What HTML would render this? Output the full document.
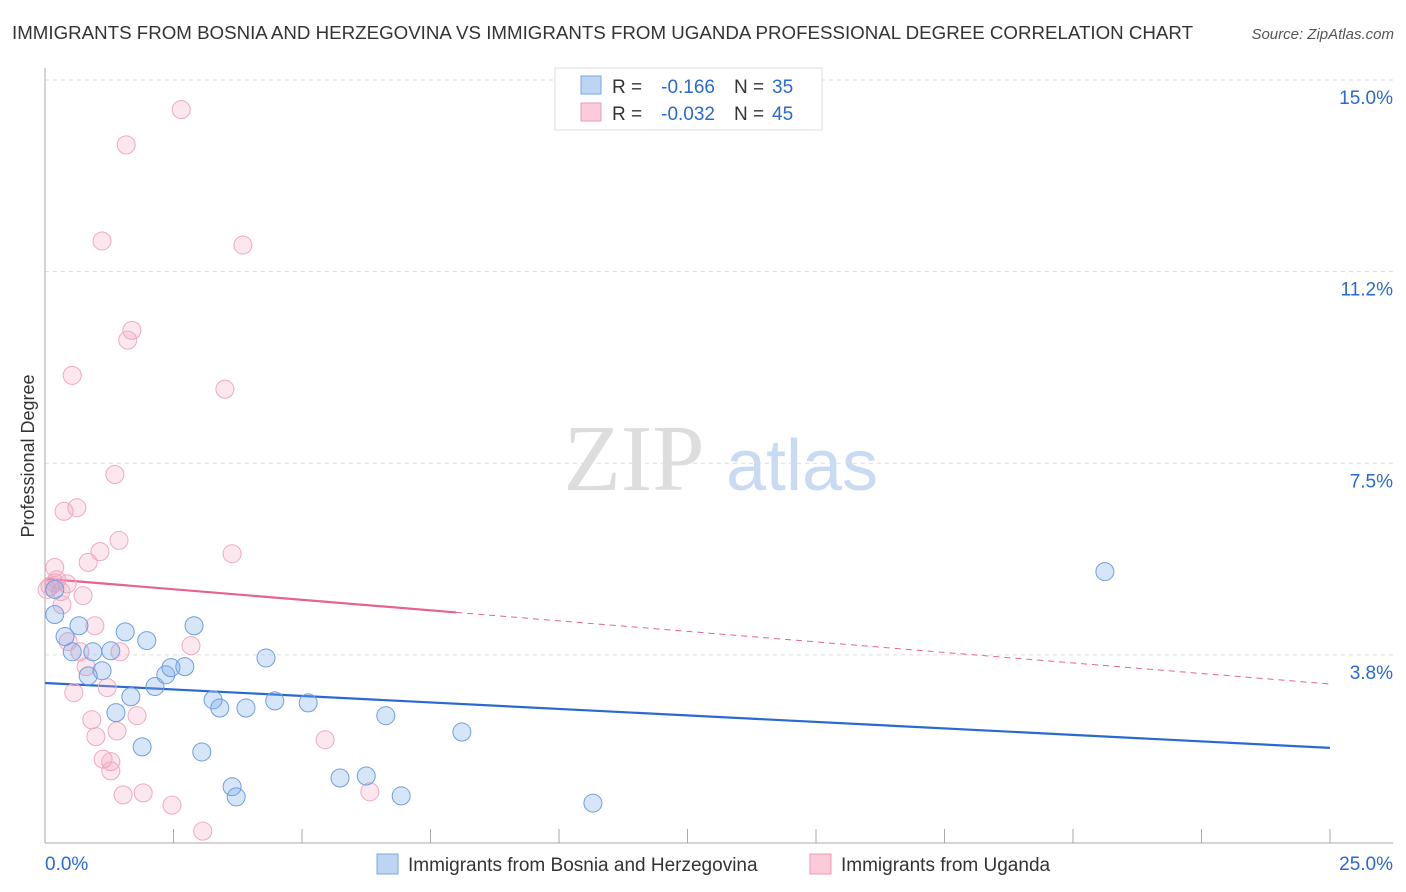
<!DOCTYPE html>
<html><head><meta charset="utf-8"><style>
body{margin:0;background:#fff;font-family:"Liberation Sans",sans-serif;}
#wrap{position:relative;width:1406px;height:892px;overflow:hidden;}
</style></head><body>
<div id="wrap">
<svg id="svg" width="1406" height="892" xmlns="http://www.w3.org/2000/svg">
<text x="12" y="39" font-size="18" fill="#333" textLength="1181" lengthAdjust="spacingAndGlyphs">IMMIGRANTS FROM BOSNIA AND HERZEGOVINA VS IMMIGRANTS FROM UGANDA PROFESSIONAL DEGREE CORRELATION CHART</text>
<text x="1394" y="39" font-size="15" fill="#555" font-style="italic" text-anchor="end">Source: ZipAtlas.com</text>
<text x="34" y="456" font-size="18" fill="#333" text-anchor="middle" transform="rotate(-90 34 456)">Professional Degree</text>
<g>
<text x="634" y="490" font-size="94" fill="#ddd" font-family="Liberation Serif,serif" text-anchor="middle">ZIP</text>
<text x="802" y="490" font-size="72" fill="#c9dbf2" text-anchor="middle">atlas</text>
</g>
<g id="grid"></g><g id="axes"></g><g id="trend"></g><g id="pts"></g>
<g>
<rect x="555" y="68" width="267" height="62" fill="#fff" stroke="#ddd"/>
<rect x="581" y="76" width="20" height="18" fill="#bcd5f5" stroke="#7aa7e0"/>
<rect x="581" y="103" width="20" height="18" fill="#fbcbd9" stroke="#ee9ab4"/>
<text x="612" y="93" font-size="19" fill="#333">R =</text>
<text x="715" y="93" font-size="19" fill="#2a6ad0" text-anchor="end">-0.166</text>
<text x="734" y="93" font-size="19" fill="#333">N =</text>
<text x="772" y="93" font-size="19" fill="#2a6ad0">35</text>
<text x="612" y="120" font-size="19" fill="#333">R =</text>
<text x="715" y="120" font-size="19" fill="#2a6ad0" text-anchor="end">-0.032</text>
<text x="734" y="120" font-size="19" fill="#333">N =</text>
<text x="772" y="120" font-size="19" fill="#2a6ad0">45</text>
</g>
<g>
<rect x="377" y="854" width="21" height="20" fill="#bcd5f5" stroke="#7aa7e0"/>
<text x="408" y="871" font-size="19" fill="#333">Immigrants from Bosnia and Herzegovina</text>
<rect x="810" y="854" width="21" height="20" fill="#fbcbd9" stroke="#ee9ab4"/>
<text x="841" y="871" font-size="19" fill="#333">Immigrants from Uganda</text>
</g>
</svg>
</div>
<script>
const yTicks=[3.75,7.5,11.25,15];
const yTickLabels=["3.8%","7.5%","11.2%","15.0%"];
const xTicks=[0,2.5,5,7.5,10,12.5,15,17.5,20,22.5,25];
const blueX=[20.62,0.19,0.39,0.66,0.53,0.84,0.93,1.28,1.11,1.56,1.98,1.38,1.67,2.14,2.35,2.45,2.72,2.90,3.27,3.40,3.91,4.47,5.12,4.30,6.63,8.11,1.89,3.05,3.64,3.72,5.74,6.25,6.93,10.66,0.19];
const blueY=[5.38,4.54,4.11,4.32,3.81,3.34,3.81,3.83,3.44,4.20,4.03,2.62,2.93,3.13,3.36,3.50,3.52,4.32,2.87,2.71,2.71,2.85,2.81,3.69,2.56,2.24,1.95,1.85,1.17,0.97,1.34,1.38,0.99,0.85,5.03];
const pinkX=[2.65,1.58,1.11,3.85,1.69,1.61,0.53,3.50,1.36,0.37,0.62,1.44,1.07,3.64,0.84,0.19,0.23,0.43,0.10,0.31,0.74,0.33,0.97,2.84,0.45,0.68,0.80,1.46,1.21,0.56,1.79,0.91,1.40,0.99,1.13,1.28,1.28,1.52,1.91,5.45,6.32,2.47,3.07,0.19,0.04];
const pinkY=[14.42,13.73,11.85,11.77,10.10,9.91,9.22,8.95,7.28,6.56,6.63,5.99,5.77,5.73,5.56,5.46,5.22,5.14,5.09,4.99,4.91,4.73,4.32,3.93,4.01,3.81,3.52,3.81,3.11,3.01,2.56,2.48,2.26,2.15,1.71,1.66,1.48,1.01,1.05,2.09,1.07,0.81,0.30,5.16,5.03];
const blueTrend=[3.20,1.93];
const pinkTrend=[5.24,3.18];
const pinkSolidEnd=8;
const NS="http://www.w3.org/2000/svg";
const xs=v=>45+v*51.4;
const ys=v=>846.5-v*51.1;
function mk(tag,attrs,parent){const e=document.createElementNS(NS,tag);for(const k in attrs)e.setAttribute(k,attrs[k]);parent.appendChild(e);return e;}
const grid=document.getElementById('grid'),axes=document.getElementById('axes'),trend=document.getElementById('trend'),pts=document.getElementById('pts');
yTicks.forEach((t,i)=>{
 const l=mk('line',{x1:45,x2:1393,y1:ys(t),y2:ys(t),stroke:'#ddd','stroke-dasharray':'4,4'},grid);
 
 
 const tx=mk('text',{x:1393,y:ys(t)+24,'font-size':19,fill:'#2a6ad0','text-anchor':'end'},grid);
 tx.textContent=yTickLabels[i];
 
 
});
const yax=mk('line',{x1:45,x2:45,y1:68,y2:843,stroke:'#aaa'},axes);


const xax=mk('line',{x1:45,x2:1393,y1:843,y2:843,stroke:'#aaa'},axes);


xTicks.forEach(t=>{
 const l=mk('line',{x1:xs(t),x2:xs(t),y1:829,y2:843,stroke:'#aaa'},axes);
 
 
});
const xl0=mk('text',{x:45,y:870,'font-size':19,fill:'#2a6ad0'},axes);xl0.textContent='0.0%';


const xl1=mk('text',{x:1393,y:870,'font-size':19,fill:'#2a6ad0','text-anchor':'end'},axes);xl1.textContent='25.0%';


function drawPts(X,Y,fill,stroke,name){X.forEach((x,i)=>{const c=mk('circle',{cx:xs(x),cy:ys(Y[i]),r:9,fill:fill,stroke:stroke,'stroke-width':1},pts);
 
 });}
drawPts(pinkX,pinkY,'rgba(244,160,188,0.25)','#efaac0','point-uganda');
drawPts(blueX,blueY,'rgba(120,168,232,0.3)','#6e9fe0','point-bosnia');
const bt=mk('line',{x1:xs(0),y1:ys(blueTrend[0]),x2:xs(25),y2:ys(blueTrend[1]),stroke:'#2a6ad0','stroke-width':2.2},trend);


const pm=pinkTrend[0]+(pinkTrend[1]-pinkTrend[0])*pinkSolidEnd/25;
const pt=mk('line',{x1:xs(0),y1:ys(pinkTrend[0]),x2:xs(pinkSolidEnd),y2:ys(pm),stroke:'#e4648e','stroke-width':2.2},trend);


const pd=mk('line',{x1:xs(pinkSolidEnd),y1:ys(pm),x2:xs(25),y2:ys(pinkTrend[1]),stroke:'#e4648e','stroke-width':1,'stroke-dasharray':'6,5'},trend);


</script>
</body></html>
